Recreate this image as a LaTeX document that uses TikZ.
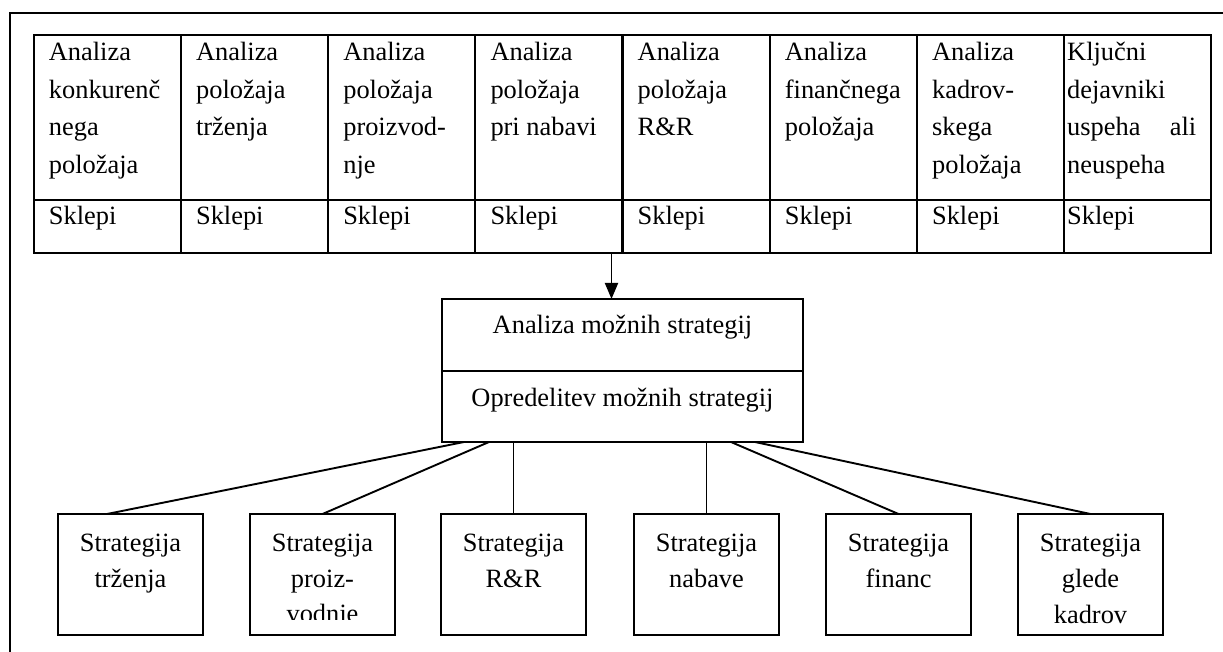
\documentclass[tikz,border=0pt]{standalone}
\usepackage{fontspec}
\setmainfont{Liberation Serif}
\usetikzlibrary{arrows.meta}
\begin{document}
\begin{tikzpicture}[x=1pt,y=-1pt,
  box/.style={draw, line width=2.2pt, inner sep=0pt, outer sep=0pt, anchor=north west},
  txt/.style={inner sep=0pt, font=\fontsize{26.4}{37.5}\selectfont},
  con/.style={line width=1.9pt},
  arr/.style={line width=1.9pt, -{Triangle[length=16pt,width=13pt]}}]
\useasboundingbox (0,0) rectangle (1223,652);
\begin{scope}
  \clip (0,0) rectangle (1223,652);
  \draw[line width=2.2pt] (10,700) -- (10,12.7) -- (1300,12.7);
\end{scope}
% table cells
\foreach \i in {1,...,8} {
  \node[box, minimum width=147.2pt, minimum height=165.3pt] (c\i) at ({33.7+147.2*(\i-1)},34.7) {};
  \node[box, minimum width=147.2pt, minimum height=53pt] (s\i) at ({33.7+147.2*(\i-1)},200) {};
}
\foreach \i/\lines in {1/{Analiza,konkurenč,nega,položaja},2/{Analiza,položaja,trženja},3/{Analiza,položaja,proizvod-,nje},4/{Analiza,položaja,pri nabavi},5/{Analiza,položaja,R\&R},6/{Analiza,finančnega,položaja},7/{Analiza,kadrov-,skega,položaja}} {
  \foreach \l [count=\k] in \lines {
    \node[txt, anchor=base west] (t\i-\k) at ({33.7+147.2*(\i-1)+15},{61+37.5*(\k-1)}) {\l};
  }
  \node[txt, anchor=base west] (k\i) at ({33.7+147.2*(\i-1)+15},225) {Sklepi};
}
\node[txt, anchor=base west] (t8-1) at (1067,61) {Ključni};
\node[txt, anchor=base west] (t8-2) at (1067,98.5) {dejavniki};
\node[txt, anchor=base west] (t8-3) at (1067,136) {\makebox[129pt][s]{uspeha ali}};
\node[txt, anchor=base west] (t8-4) at (1067,173.5) {neuspeha};
\node[txt, anchor=base west] (k8) at (1067,225) {Sklepi};
% middle box
\node[box, minimum width=361pt, minimum height=143pt] (mid) at (442,299) {};
\draw[line width=2.2pt] ([yshift=-72pt]mid.north west) -- ([yshift=-72pt]mid.north east);
\node[txt, anchor=base] (m1) at (622.5,333) {Analiza možnih strategij};
\node[txt, anchor=base] (m2) at (622.5,406) {Opredelitev možnih strategij};
\coordinate (ar) at ([xshift=-11pt]s4.south east);
\draw[arr] (ar) -- (ar |- mid.north);
% bottom boxes
\foreach \i/\x in {1/58,2/250,3/441,4/634,5/826,6/1018} {
  \node[box, minimum width=145pt, minimum height=121pt] (b\i) at (\x,514) {};
}
\node[txt, anchor=base] (b1a) at (130.5,551) {Strategija};
\node[txt, anchor=base] (b1b) at (130.5,587) {trženja};
\node[txt, anchor=base] (b2a) at (322.5,551) {Strategija};
\node[txt, anchor=base] (b2b) at (322.5,587) {proiz-};
\begin{scope}
  \clip (250,514) rectangle (395,619);
  \node[txt, anchor=base] (b2c) at (322.5,622) {vodnje};
\end{scope}
\node[txt, anchor=base] (b3a) at (513.5,551) {Strategija};
\node[txt, anchor=base] (b3b) at (513.5,587) {R\&R};
\node[txt, anchor=base] (b4a) at (706.5,551) {Strategija};
\node[txt, anchor=base] (b4b) at (706.5,587) {nabave};
\node[txt, anchor=base] (b5a) at (898.5,551) {Strategija};
\node[txt, anchor=base] (b5b) at (898.5,587) {financ};
\node[txt, anchor=base] (b6a) at (1090.5,551) {Strategija};
\node[txt, anchor=base] (b6b) at (1090.5,587) {glede};
\node[txt, anchor=base] (b6c) at (1090.5,623) {kadrov};
% connectors
\draw[con] ([xshift=22pt]mid.south west) -- ([xshift=-23.5pt]b1.north);
\draw[con] ([xshift=47pt]mid.south west) -- (b2.north);
\draw[con] (b3.north |- mid.south) -- (b3.north);
\draw[con] (b4.north |- mid.south) -- (b4.north);
\draw[con] ([xshift=289pt]mid.south west) -- (b5.north);
\draw[con] ([xshift=313pt]mid.south west) -- (b6.north);
\end{tikzpicture}
\end{document}
